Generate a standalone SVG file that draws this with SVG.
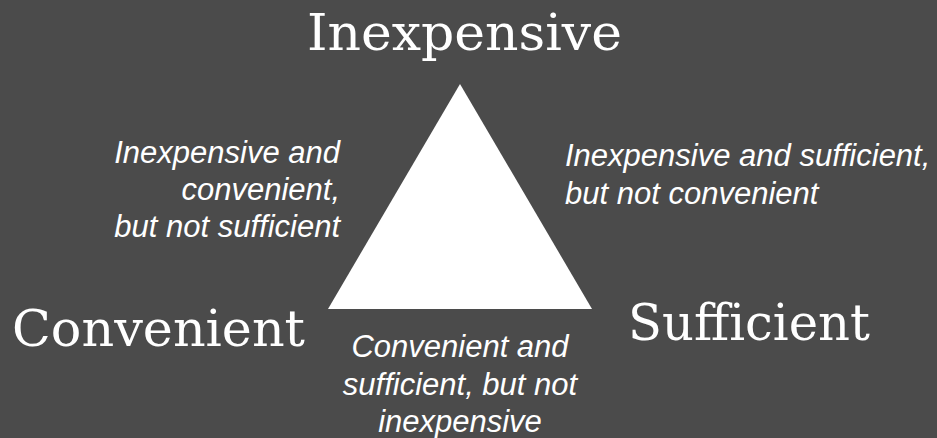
<svg xmlns="http://www.w3.org/2000/svg" width="937" height="438" viewBox="0 0 937 438">
<style>
.big{font-family:"DejaVu Serif",serif;font-size:51px;fill:#ffffff}
.it{font-family:"Liberation Sans",Arial,sans-serif;font-size:31px;font-style:italic;fill:#ffffff}
</style>
<rect width="937" height="438" fill="#4b4b4b"/>
<g id="triangle"><polygon points="460,84 328,309 592,309" fill="#ffffff"/></g>
<g id="inexpensive"><text class="big" x="307" y="50" textLength="315" lengthAdjust="spacingAndGlyphs">Inexpensive</text></g>
<g id="convenient"><text class="big" x="12" y="346" textLength="293" lengthAdjust="spacingAndGlyphs">Convenient</text></g>
<g id="sufficient"><text class="big" x="628" y="340" textLength="242" lengthAdjust="spacingAndGlyphs">Sufficient</text></g>
<g id="label-ic"><text class="it" text-anchor="end" x="340"><tspan x="340" y="163">Inexpensive and</tspan><tspan x="340" y="200">convenient,</tspan><tspan x="340" y="237">but not sufficient</tspan></text></g>
<g id="label-is"><text class="it" x="565"><tspan x="565" y="166">Inexpensive and sufficient,</tspan><tspan x="565" y="204">but not convenient</tspan></text></g>
<g id="label-cs"><text class="it" text-anchor="middle" x="460"><tspan x="460" y="357">Convenient and</tspan><tspan x="460" y="395">sufficient, but not</tspan><tspan x="460" y="432">inexpensive</tspan></text></g>
</svg>
